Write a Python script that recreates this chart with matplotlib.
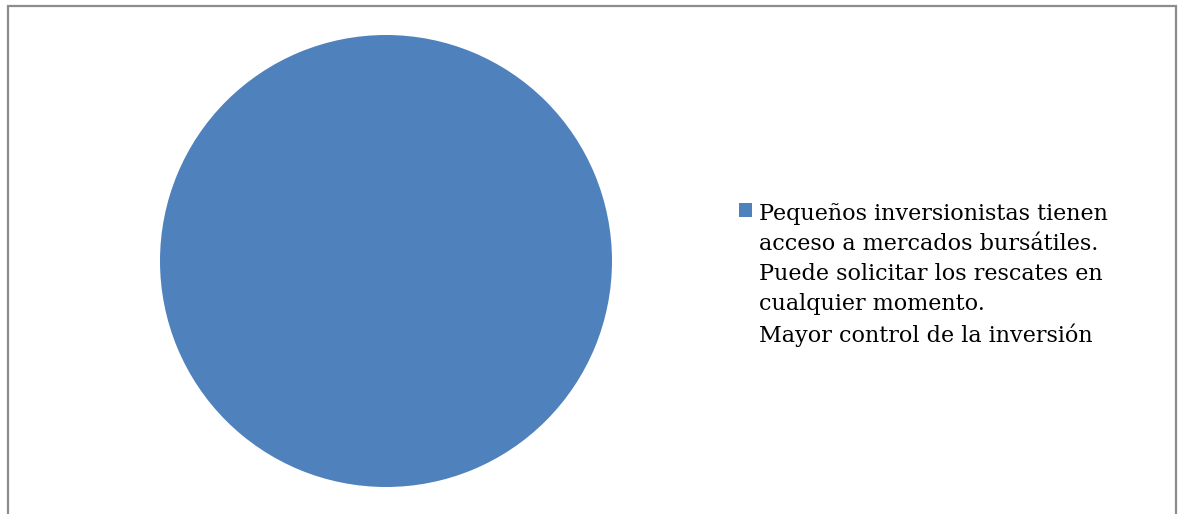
import matplotlib
matplotlib.use("Agg")
import matplotlib.pyplot as plt
from matplotlib.patches import Rectangle

labels = ["Pequeños inversionistas tienen\nacceso a mercados bursátiles.\nPuede solicitar los rescates en\ncualquier momento.\nMayor control de la inversión"]
values = [100]
colors = ["#4F81BD"]

fig = plt.figure(figsize=(11.78, 5.14), dpi=100)
fig.patch.set_facecolor("white")

r = 226
cx, cy = 386, 261
W, H = 1178, 514
ax = fig.add_axes([(cx - r) / W, 1 - (cy + r) / H, 2 * r / W, 2 * r / H])
wedges, _ = ax.pie(values, colors=colors, startangle=90, counterclock=False,
                   wedgeprops=dict(linewidth=0))
ax.set_aspect("equal")
ax.set_xlim(-1, 1)
ax.set_ylim(-1, 1)

leg = fig.legend(wedges, labels, loc="upper left",
                 bbox_to_anchor=(739 / W, 1 - 203 / H),
                 frameon=False, handlelength=0.6, handleheight=0.6,
                 handletextpad=0.3, borderpad=0, borderaxespad=0,
                 prop=dict(family="DejaVu Serif", size=16))
for t in leg.get_texts():
    t.set_linespacing(1.47)
# align the marker with the first line of the label
for col in leg._legend_handle_box.get_children():
    for row in col.get_children():
        row.align = "top"

border = Rectangle((8 / W, -0.1), (1176 - 8) / W, 1.1 - 6 / H,
                   transform=fig.transFigure, fill=False,
                   edgecolor="#8c8c8c", linewidth=1.6)
fig.patches.append(border)

fig.savefig("out.png", dpi=100, facecolor="white")
